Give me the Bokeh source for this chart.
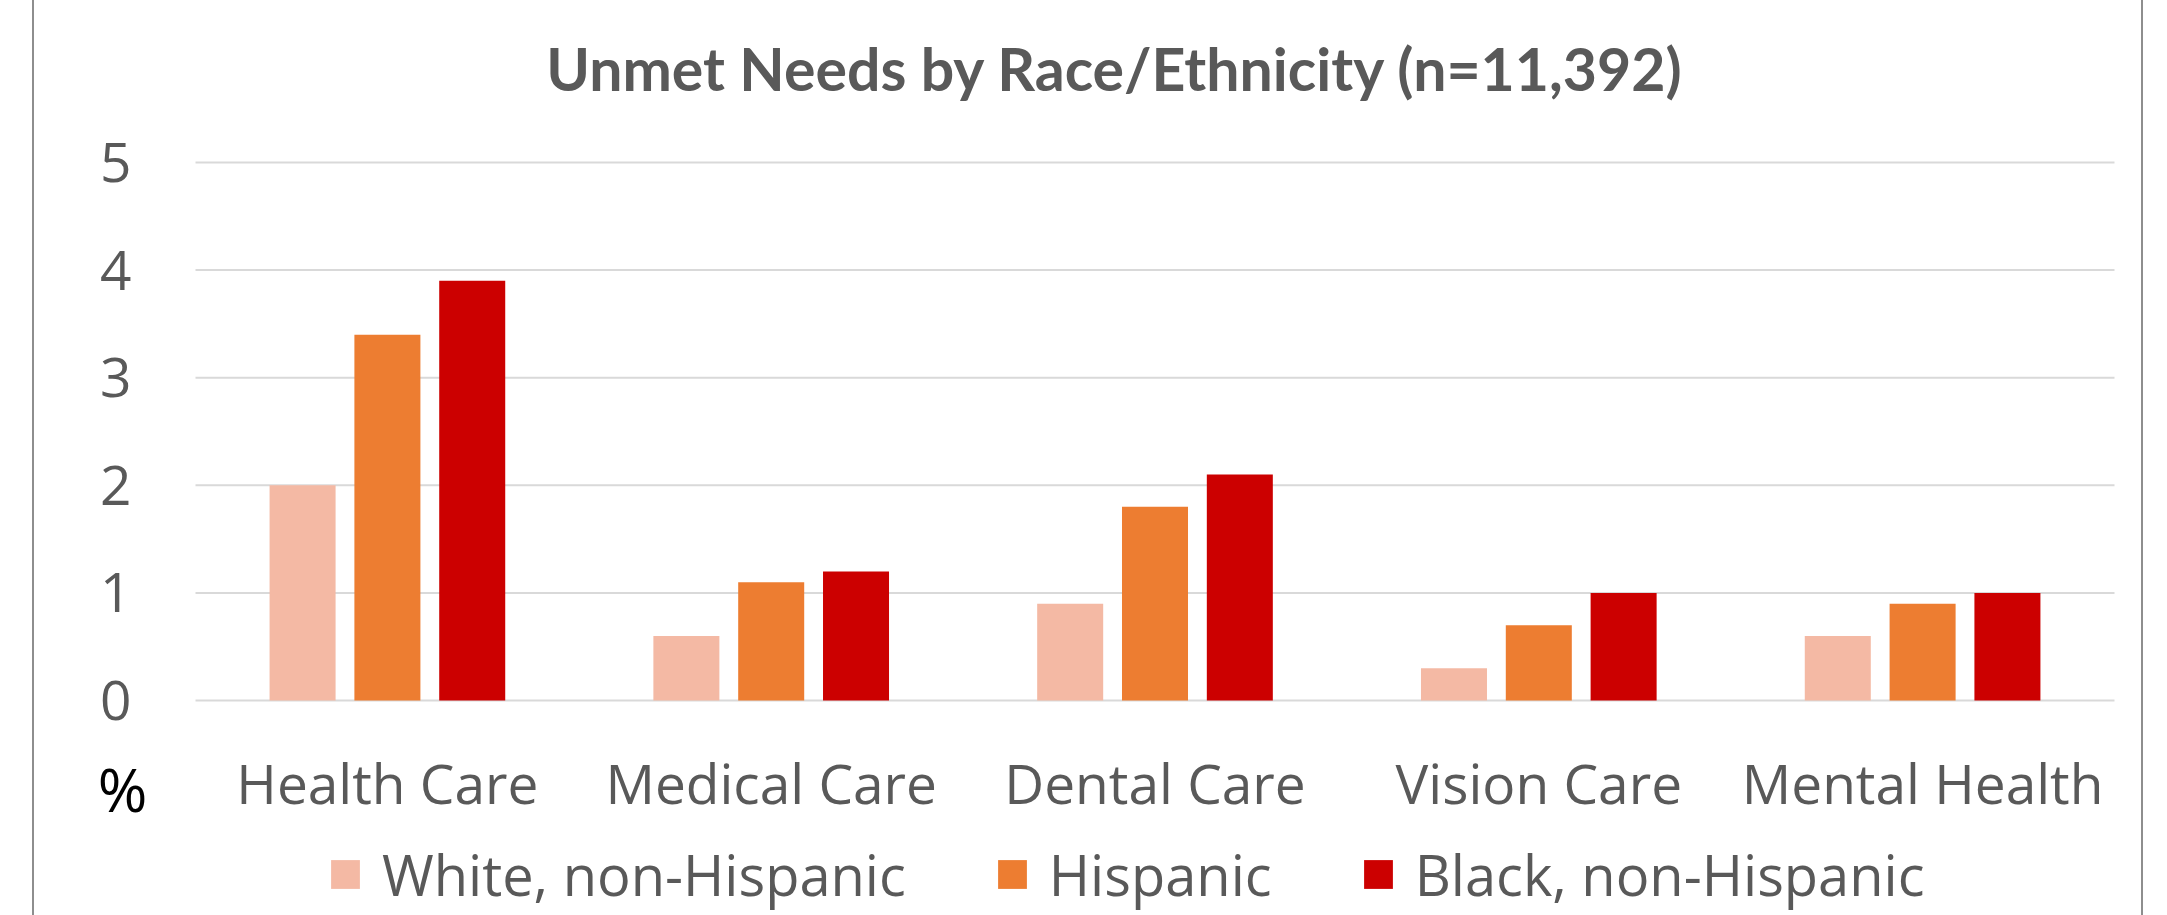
from bokeh.plotting import figure
from bokeh.models import Range1d, Legend, LegendItem, ColumnDataSource
from bokeh.core.properties import value
from bokeh.embed import file_html
from bokeh.resources import INLINE

categories = ["Health Care", "Medical Care", "Dental Care", "Vision Care", "Mental Health"]
white_non_hispanic = [2.0, 0.6, 0.9, 0.3, 0.6]
hispanic = [3.4, 1.1, 1.8, 0.7, 0.9]
black_non_hispanic = [3.9, 1.2, 2.1, 1.0, 1.0]
series_names = ["White, non-Hispanic", "Hispanic", "Black, non-Hispanic"]
series_colors = ["#F4B9A4", "#ED7D31", "#CC0000"]
y_ticks = [0, 1, 2, 3, 4, 5]
y_tick_labels = ["0", "1", "2", "3", "4", "5"]
title_text = "Unmet Needs by Race/Ethnicity (n=11,392)"
unit_text = "%"

TEXT = "#595959"
FONT = "Open Sans"

# pixel geometry of the plotting area inside a 2111 x 915 canvas
W, H = 2111, 915
FL, FR, FT, FB = 161, 2080, 162, 700          # frame left/right/top/bottom in canvas px
ymax = max(y_ticks)
n = len(categories)
ppu_y = (FB - FT) / ymax
ppu_x = (FR - FL) / n
x_start = -0.5 - FL / ppu_x
x_end = n - 0.5 + (W - FR) / ppu_x
y_start = -(H - FB) / ppu_y
y_end = ymax + FT / ppu_y

p = figure(width=W, height=H, x_range=Range1d(x_start, x_end), y_range=Range1d(y_start, y_end),
           output_backend="svg", toolbar_location=None,
           min_border=0, min_border_left=0, min_border_right=0, min_border_top=0, min_border_bottom=0)
p.styles = {"margin-left": "32px", "border-left": "2px solid #8E8E8E", "border-right": "2px solid #8E8E8E"}
p.axis.visible = False
p.grid.visible = False
p.outline_line_color = None
p.background_fill_color = "white"
p.border_fill_color = "white"

idx = list(range(n))

# horizontal gridlines
p.segment(x0=[-0.5] * len(y_ticks), x1=[n - 0.5] * len(y_ticks), y0=y_ticks, y1=y_ticks,
          line_color="#D9D9D9", line_width=2)

# bars
src = ColumnDataSource(dict(x=idx, w=white_non_hispanic, h=hispanic, b=black_non_hispanic))
renderers = []
for key, off, col in zip(["w", "h", "b"], [-0.221, 0.0, 0.221], series_colors):
    r = p.vbar(x=[i + off for i in idx], top=src.data[key], width=0.172,
               fill_color=col, line_color=None)
    renderers.append(r)

# y tick labels
p.text(x=[-0.5 - 64 / ppu_x] * len(y_ticks), y=y_ticks, text=y_tick_labels,
       text_font=value(FONT), text_font_size="55px", text_color=TEXT,
       text_align="right", text_baseline="middle")

# category labels
p.text(x=idx, y=[-82 / ppu_y] * n, text=categories,
       text_font=value(FONT), text_font_size="55px", text_color=TEXT,
       text_align="center", text_baseline="middle")

# unit label
p.text(x=[-0.5 - 73 / ppu_x], y=[-88 / ppu_y], text=[unit_text],
       text_font=value(FONT), text_font_size="60px", text_color="black",
       text_align="center", text_baseline="middle")

# title
p.text(x=[-0.5 + 920 / ppu_x], y=[ymax + 94 / ppu_y], text=[title_text],
       text_font=value("Lato"), text_font_style="bold", text_font_size="59px", text_color=TEXT,
       text_align="center", text_baseline="middle")

legend = Legend(items=[LegendItem(label=nm, renderers=[r]) for nm, r in zip(series_names, renderers)],
                orientation="horizontal", location=(293, 3),
                label_text_font=FONT, label_text_font_size="56px", label_text_color=TEXT,
                glyph_width=36, glyph_height=36, label_standoff=19, spacing=88,
                padding=0, margin=0, border_line_color=None, background_fill_alpha=0)
p.add_layout(legend, "center")

open("out.html", "w").write(file_html(p, INLINE))
